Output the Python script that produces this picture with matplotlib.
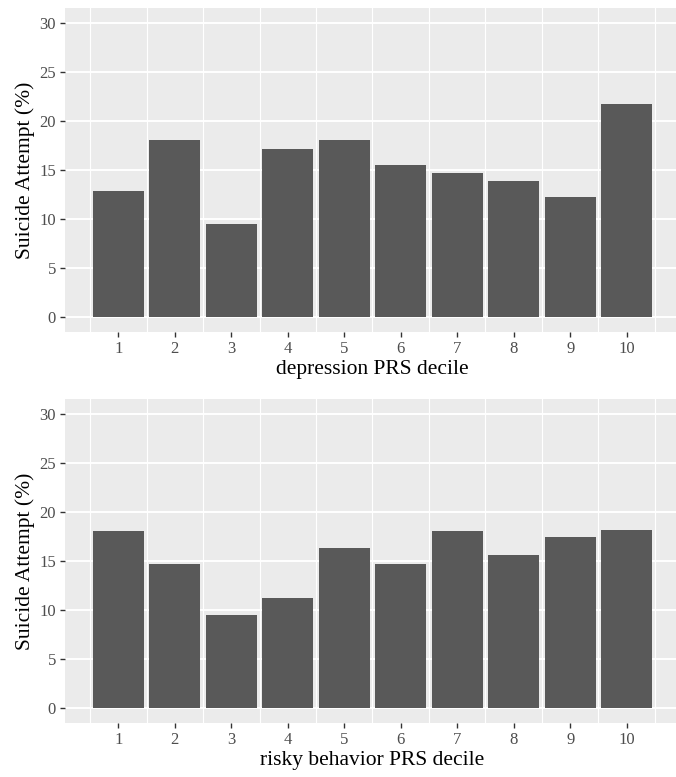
import numpy as np
import matplotlib.pyplot as plt

deciles = np.arange(1, 11)
depression_pct = [12.9, 18.1, 9.45, 17.15, 18.1, 15.5, 14.7, 13.9, 12.2, 21.7]
risky_pct = [18.05, 14.65, 9.45, 11.2, 16.3, 14.65, 18.05, 15.6, 17.4, 18.2]
y_ticks = [0, 5, 10, 15, 20, 25, 30]

plt.rcParams['font.family'] = ['Liberation Serif', 'DejaVu Serif']

W, H = 676, 777
fig = plt.figure(figsize=(W / 100, H / 100), dpi=100)

def panel(top, bottom, values, xlabel):
    # axes placed in pixel coords; right edge runs past the figure like the reference
    left, right = 65, 680
    ax = fig.add_axes([left / W, 1 - bottom / H, (right - left) / W, (bottom - top) / H])
    ax.set_facecolor('#EBEBEB')
    ax.bar(deciles, values, width=0.9, color='#595959', zorder=3)
    ax.set_xlim(0.055, 10.945)
    ax.set_ylim(-1.5, 31.5)
    ax.set_xticks(deciles)
    ax.set_xticks(np.arange(0.5, 11, 1.0), minor=True)
    ax.set_yticks(y_ticks)
    ax.grid(which='major', axis='y', color='white', linewidth=1.4, zorder=1)
    ax.grid(which='minor', axis='x', color='white', linewidth=0.8, zorder=1)
    ax.tick_params(which='minor', length=0)
    ax.tick_params(which='major', length=3.5, width=1.0, color='#333333',
                   labelcolor='#4D4D4D', labelsize=12, pad=3)
    for s in ax.spines.values():
        s.set_visible(False)
    ax.set_xlabel(xlabel, fontsize=15.5, color='black', labelpad=2)
    ax.set_ylabel('Suicide Attempt (%)', fontsize=15.5, color='black', labelpad=3)
    return ax

panel(8, 332, depression_pct, 'depression PRS decile')
panel(399, 723, risky_pct, 'risky behavior PRS decile')

fig.savefig('out.png', dpi=100, facecolor='white')
